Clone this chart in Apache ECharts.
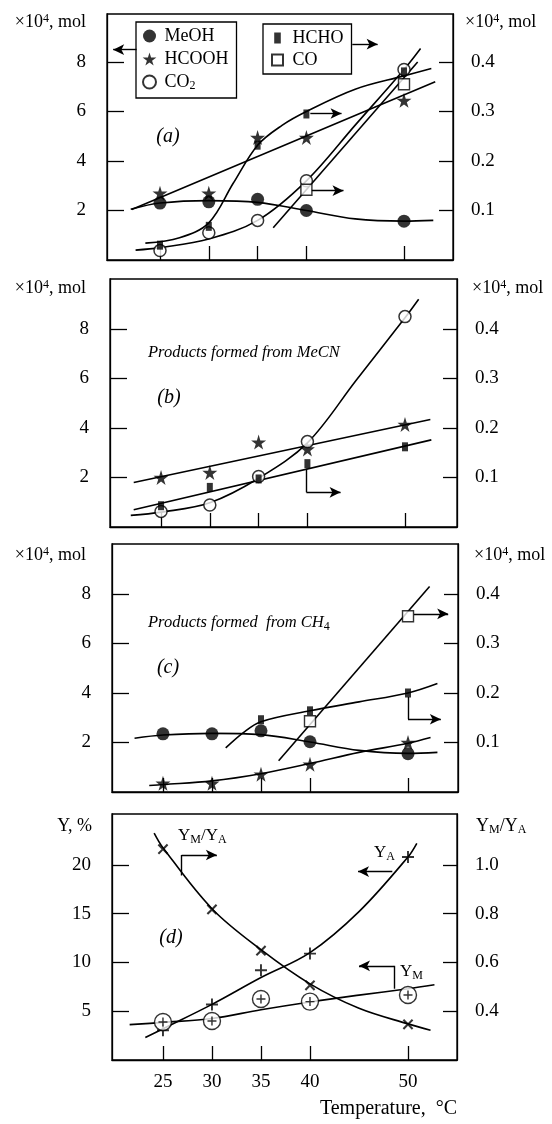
<!DOCTYPE html>
<html><head><meta charset="utf-8">
<script src="https://cdn.jsdelivr.net/npm/echarts@6/dist/echarts.min.js"></script>
<style>html,body{margin:0;padding:0;background:#fff}#c{width:552px;height:1124px}</style>
</head><body><div id="c"></div>
<script>
// ---------- data ----------
const temps = [25, 30, 35, 40, 50];
const xTicks = [25, 30, 35, 40, 50];
const molTicks = [2, 4, 6, 8];
const molRightTicks = [0.1, 0.2, 0.3, 0.4];
const yTicks = [5, 10, 15, 20];
const ratioTicks = [0.4, 0.6, 0.8, 1.0];

// panel (a)  left axis ×10^4 mol, right axis ×10^4 mol
const a_MeOH  = [2.3, 2.35, 2.45, 2.0, 1.57];
const a_HCOOH = [2.7, 2.7, 4.95, 4.95, 6.45];
const a_CO2   = [0.38, 1.1, 1.6, 3.2, 7.7];
const a_HCHO  = [0.03, 0.068, 0.232, 0.295, 0.38];   // right axis
const a_CO    = [null, null, null, 0.142, 0.355];    // right axis
const a_MeOH_fit  = [[22.0,2.05],[25,2.3],[30,2.4],[35,2.33],[40,2.0],[45,1.66],[50,1.57],[53,1.6]];
const a_HCOOH_fit = [[22.1,2.04],[53.2,7.2]];
const a_CO2_fit   = [[22.5,0.4],[25,0.5],[30,0.85],[35,1.6],[40,3.2],[45,5.45],[50,7.7],[51.7,8.55]];
const a_HCHO_fit  = [[23.5,0.034],[27,0.045],[30,0.075],[32.5,0.155],[35,0.232],[37.5,0.272],[40,0.3],[45,0.345],[50,0.372],[52.8,0.387]];
const a_CO_fit    = [[36.6,0.065],[51.4,0.40]];

// panel (b)
const b_HCOOH = [2.0, 2.2, 3.43, 3.15, 4.14];
const b_HCHO  = [0.043, 0.08, 0.097, 0.128, 0.162];  // right axis
const b_CO2   = [0.63, 0.89, 2.04, 3.45, 8.5];
const b_HCOOH_fit = [[22.2,1.8],[52.6,4.34]];
const b_HCHO_fit  = [[22.2,0.035],[52.7,0.176]];
const b_CO2_fit   = [[21.9,0.47],[25,0.6],[30,0.98],[35,1.97],[40,3.4],[45,5.93],[50,8.45],[51.4,9.2]];

// panel (c)
const c_MeOH  = [2.35, 2.35, 2.47, 2.03, 1.55];
const c_HCOOH = [0.35, 0.35, 0.72, 1.12, 2.0];
const c_HCHO  = [null, null, 0.146, 0.164, 0.2];     // right axis
const c_CO    = [null, null, null, 0.143, 0.355];    // right axis
const c_MeOH_fit  = [[22.1,2.17],[25,2.3],[30,2.37],[35,2.32],[40,2.02],[45,1.68],[50,1.56],[53,1.6]];
const c_HCOOH_fit = [[23.6,0.26],[25,0.3],[30,0.45],[35,0.74],[40,1.15],[45,1.6],[50,1.97],[52.3,2.2]];
const c_HCHO_fit  = [[31.4,0.089],[33.2,0.12],[35,0.142],[40,0.164],[45,0.182],[50,0.2],[53,0.219]];
const c_CO_fit    = [[36.8,0.063],[52.2,0.415]];

// panel (d)  left Y, %, right YM/YA
const d_YA    = [3.04, 5.68, 9.2, 10.9, 20.8];
const d_YM    = [3.9, 4.0, 6.25, 5.98, 6.66];
const d_ratio = [1.064, 0.817, 0.648, 0.506, 0.346];
const d_YA_fit    = [[23.2,2.3],[25,3.2],[30,5.7],[35,8.45],[40,11.0],[45,15.2],[50,20.8],[50.9,22.2]];
const d_YM_fit    = [[21.6,3.62],[25,3.85],[30,4.25],[35,5.15],[40,5.95],[45,6.65],[50,7.3],[52.7,7.7]];
const d_ratio_fit = [[24.1,1.13],[25,1.07],[30,0.82],[35,0.652],[40,0.512],[45,0.412],[50,0.348],[52.3,0.322]];

// annotation arrows in data units: [from, to, arrowhead]
const a_arrowsLeft  = [[[22.6,8.5],[20.2,8.5],true]];
const a_arrowsRight = [[[44.7,0.436],[47.3,0.436],true],[[40.4,0.296],[43.6,0.296],true],[[40.5,0.14],[43.8,0.14],true]];
const b_arrowsRight = [[[39.9,0.118],[39.9,0.07],false],[[39.9,0.07],[43.4,0.07],true]];
const c_arrowsRight = [[[50.6,0.36],[54.1,0.36],true],[[50,0.192],[50,0.147],false],[[50,0.147],[53.35,0.147],true]];
const d_arrowsRight = [[[26.9,0.956],[26.9,1.04],false],[[26.9,1.04],[30.5,1.04],true]];
const d_arrowsLeft  = [[[48.4,19.3],[44.9,19.3],true],[[48.6,7.3],[48.6,9.65],false],[[48.6,9.65],[45.0,9.65],true]];

// ---------- rendering ----------
const FF = 'Liberation Serif';
const BLACK = '#000';
const STAR = 'path://M50,0 L61,35 L98,35 L68,57 L79,91 L50,70 L21,91 L32,57 L2,35 L39,35 Z';
const PLUS = 'path://M4.2,0 H5.8 V4.2 H10 V5.8 H5.8 V10 H4.2 V5.8 H0 V4.2 H4.2 Z';
const BAR  = 'path://M0,0 H6 V10 H0 Z';
const SQ   = 'path://M0,0 H10 V10 H0 Z';

function pairs(ys){ return temps.map((t,i)=>[t, ys[i]]).filter(p=>p[1]!=null); }

const gridsPos = [
  {left:107, top:14,  width:346, height:246},
  {left:110, top:279, width:347, height:248},
  {left:112, top:544, width:346, height:248},
  {left:112, top:814, width:345, height:246}
];
const xRanges = [[19.57,55.02],[19.77,55.33],[19.8,55.1],[19.8,55.0]];

const grid = gridsPos.map(g => Object.assign({show:true, borderColor:BLACK, borderWidth:1.3, backgroundColor:'transparent'}, g));

const xAxis = xRanges.map((r,i)=>({
  type:'value', gridIndex:i, min:r[0], max:r[1],
  axisLine:{show:true, onZero:false, lineStyle:{color:BLACK, width:1.3}},
  axisTick:{show:true, inside:true, length:14, customValues:xTicks, lineStyle:{color:BLACK, width:1.3}},
  axisLabel:{show:i===3, customValues:xTicks, color:BLACK, fontFamily:FF, fontSize:19, margin:13},
  splitLine:{show:false}
}));

function yAx(grid, pos, min, max, ticks, fmt, len, margin){
  return {type:'value', gridIndex:grid, position:pos, min, max,
    axisLine:{show:true, onZero:false, lineStyle:{color:BLACK, width:1.3}},
    axisTick:{show:true, inside:true, length:len, customValues:ticks, lineStyle:{color:BLACK, width:1.3}},
    axisLabel:{show:true, customValues:ticks, color:BLACK, fontFamily:FF, fontSize:19, margin, formatter:fmt},
    splitLine:{show:false}};
}
const f0 = v => String(v);
const f1 = v => v.toFixed(1);
const yAxis = [
  yAx(0,'left',0,9.94,molTicks,f0,17,21),  yAx(0,'right',0,0.497,molRightTicks,f1,14,18),
  yAx(1,'left',0,10.02,molTicks,f0,17,21), yAx(1,'right',0,0.501,molRightTicks,f1,14,18),
  yAx(2,'left',0,10.02,molTicks,f0,17,21), yAx(2,'right',0,0.501,molRightTicks,f1,14,18),
  yAx(3,'left',0,25.2,yTicks,f0,17,21),    yAx(3,'right',0.2,1.208,ratioTicks,f1,14,18)
];

function arrows(list){
  return {silent:true, animation:false, label:{show:false}, emphasis:{disabled:true},
    lineStyle:{color:BLACK, width:1.4, type:'solid'},
    data: list.map(s=>[{coord:s[0], symbol:'none'},{coord:s[1], symbol:s[2]?'arrow':'none', symbolSize:[8,11]}])};
}
function fit(data, xi, yi, mark){
  const s = {type:'line', xAxisIndex:xi, yAxisIndex:yi, data, symbol:'none', smooth:data.length>2 ? 0.35 : false,
    lineStyle:{color:BLACK, width:1.6}, z:2, silent:true};
  if(mark) s.markLine = arrows(mark);
  return s;
}
const MK = {
  MeOH:  {symbol:'circle', symbolSize:13, itemStyle:{color:BLACK}},
  HCOOH: {symbol:STAR, symbolSize:15, itemStyle:{color:BLACK}},
  CO2:   {symbol:'circle', symbolSize:12, itemStyle:{color:'#fff', borderColor:BLACK, borderWidth:1.5}},
  HCHO:  {symbol:'rect', symbolSize:[6,9], itemStyle:{color:BLACK}},
  CO:    {symbol:'rect', symbolSize:11, itemStyle:{color:'#fff', borderColor:BLACK, borderWidth:1.4}},
  YA:    {symbol:PLUS, symbolSize:12, itemStyle:{color:BLACK}},
  ratio: {symbol:PLUS, symbolSize:13, symbolRotate:45, itemStyle:{color:BLACK}},
  ring:  {symbol:'circle', symbolSize:17, itemStyle:{color:'#fff', borderColor:BLACK, borderWidth:1.4}},
  ringPlus: {symbol:PLUS, symbolSize:9, itemStyle:{color:BLACK}}
};
function pts(name, key, ys, xi, yi, z){
  return Object.assign({type:'scatter', name, xAxisIndex:xi, yAxisIndex:yi, data:pairs(ys), z:z||4, silent:true}, MK[key]);
}

const series = [
  // (a)
  fit(a_MeOH_fit,0,0,a_arrowsLeft), fit(a_HCOOH_fit,0,0), fit(a_CO2_fit,0,0),
  fit(a_HCHO_fit,0,1,a_arrowsRight), fit(a_CO_fit,0,1),
  pts('HCOOH','HCOOH',a_HCOOH,0,0,4), pts('MeOH','MeOH',a_MeOH,0,0,5), pts('CO2','CO2',a_CO2,0,0,5),
  pts('HCHO','HCHO',a_HCHO,0,1,6), pts('CO','CO',a_CO,0,1,6),
  // (b)
  fit(b_HCOOH_fit,1,2), fit(b_HCHO_fit,1,3,b_arrowsRight), fit(b_CO2_fit,1,2),
  pts('HCOOH','HCOOH',b_HCOOH,1,2,4), pts('CO2','CO2',b_CO2,1,2,5), pts('HCHO','HCHO',b_HCHO,1,3,6),
  // (c)
  fit(c_MeOH_fit,2,4), fit(c_HCOOH_fit,2,4), fit(c_HCHO_fit,2,5), fit(c_CO_fit,2,5,c_arrowsRight),
  pts('MeOH','MeOH',c_MeOH,2,4,4), pts('HCOOH','HCOOH',c_HCOOH,2,4,5),
  pts('HCHO','HCHO',c_HCHO,2,5,6), pts('CO','CO',c_CO,2,5,6),
  // (d)
  fit(d_YA_fit,3,6,d_arrowsLeft), fit(d_YM_fit,3,6), fit(d_ratio_fit,3,7,d_arrowsRight),
  pts('YA','YA',d_YA,3,6,4), pts('YM','ring',d_YM,3,6,5), pts('YM+','ringPlus',d_YM,3,6,6),
  pts('ratio','ratio',d_ratio,3,7,4)
];

const legendText = {fontFamily:FF, fontSize:18, color:BLACK,
  rich:{sub:{fontFamily:FF, fontSize:12, color:BLACK, verticalAlign:'bottom', padding:[8,0,0,0]}}};
const legend = [
  {data:[{name:'MeOH', icon:'circle'},{name:'HCOOH', icon:STAR},{name:'CO2', icon:'circle'}],
   orient:'vertical', left:136, top:22, padding:[5,8,6,6], itemGap:5, itemWidth:20, itemHeight:13,
   borderColor:BLACK, borderWidth:1.3, selectedMode:false, textStyle:legendText,
   formatter: n => n==='CO2' ? 'CO{sub|2}' : n},
  {data:[{name:'HCHO', icon:BAR},{name:'CO', icon:SQ}],
   orient:'vertical', left:263, top:24, padding:[5,8,5,8], itemGap:4, itemWidth:20, itemHeight:11,
   borderColor:BLACK, borderWidth:1.3, selectedMode:false, textStyle:legendText}
];

const supRich = {sup:{fontFamily:FF, fontSize:12, color:BLACK, verticalAlign:'top', padding:[0,0,7,0]},
                 sub:{fontFamily:FF, fontSize:12, color:BLACK, verticalAlign:'bottom', padding:[7,0,0,0]}};
function txt(x, y, text, opt){
  opt = opt || {};
  return {type:'text', x, y, silent:true, z:10, style:{text, fill:BLACK, fontFamily:FF,
    fontSize:opt.size||18, fontStyle:opt.italic?'italic':'normal', textAlign:opt.align||'left',
    textVerticalAlign:'middle', rich:supRich}};
}
const MOL = '×10{sup|4}, mol';
const graphic = [
  txt(86,22,MOL,{align:'right'}), txt(465,22,MOL),
  txt(86,288,MOL,{align:'right'}), txt(472,288,MOL),
  txt(86,555,MOL,{align:'right'}), txt(474,555,MOL),
  txt(92,826,'Y, %',{align:'right'}), txt(476,826,'Y{sub|M}/Y{sub|A}'),
  txt(168,137,'(a)',{align:'center', italic:true, size:20}),
  txt(169,398,'(b)',{align:'center', italic:true, size:20}),
  txt(168,668,'(c)',{align:'center', italic:true, size:20}),
  txt(171,938,'(d)',{align:'center', italic:true, size:20}),
  txt(148,353,'Products formed from MeCN',{italic:true, size:16.5}),
  txt(148,623,'Products formed  from CH{sub|4}',{italic:true, size:16.5}),
  txt(178,836,'Y{sub|M}/Y{sub|A}',{size:17}),
  txt(374,853,'Y{sub|A}',{size:17}),
  txt(400,972,'Y{sub|M}',{size:17}),
  txt(457,1109,'Temperature,  °C',{align:'right', size:20})
];

const chart = echarts.init(document.getElementById('c'), null, {renderer:'canvas'});
chart.setOption({animation:false, backgroundColor:'#fff', grid, xAxis, yAxis, series, legend, graphic});
</script></body></html>
